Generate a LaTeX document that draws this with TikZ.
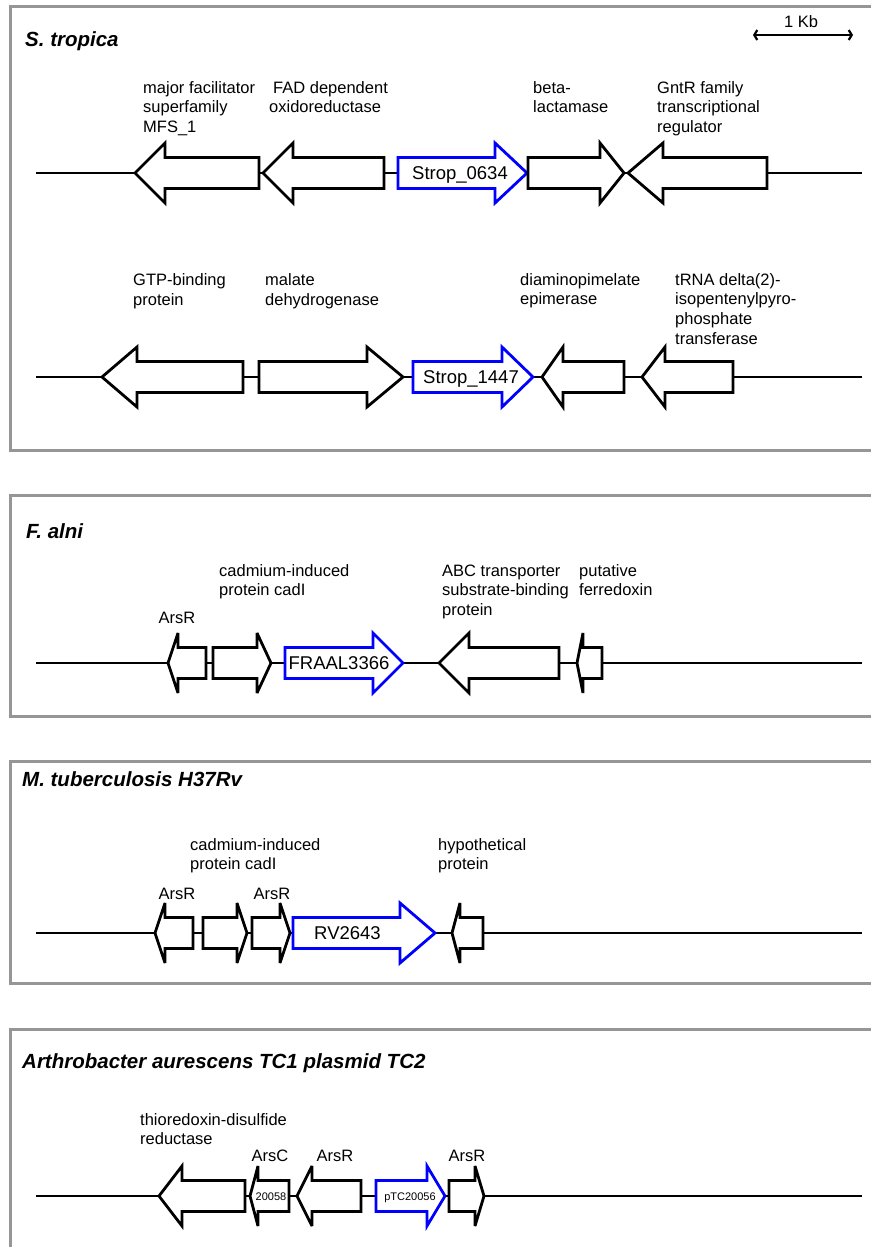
\documentclass[tikz,border=0pt]{standalone}
\usepackage{fontspec}
\setmainfont{Liberation Sans}
\usetikzlibrary{arrows.meta}
\definecolor{panelgray}{RGB}{150,150,150}
\definecolor{geneblue}{RGB}{0,0,255}
\newcommand\lblfont{\fontsize{16.5}{19.7}\selectfont}
\newcommand\ttlfont{\fontsize{20.5}{24}\selectfont\bfseries\itshape}
\newcommand\gnfont{\fontsize{18.5}{22}\selectfont}
\newcommand\smfont{\fontsize{11}{13}\selectfont}
% #1 style, #2 flat end, #3 head back, #4 tip, #5 y of backbone
\newcommand\gene[5]{\draw[#1] (#2,#5-15.5) -- (#3,#5-15.5) -- (#3,#5-30) -- (#4,#5) -- (#3,#5+30) -- (#3,#5+15.5) -- (#2,#5+15.5) -- cycle;}
\tikzset{
  panel/.style={draw=panelgray, line width=3pt},
  backbone/.style={draw=black, line width=1.4pt},
  blk/.style={draw=black, fill=white, line width=2.8pt, miter limit=4},
  blu/.style={draw=geneblue, fill=white, line width=2.8pt, miter limit=4},
  lbl/.style={anchor=north west, inner sep=0pt, align=left, font=\lblfont},
  lone/.style={anchor=base, inner sep=0pt, font=\lblfont},
  ttl/.style={anchor=base west, inner sep=0pt, font=\ttlfont},
  gname/.style={anchor=base, inner sep=0pt, font=\gnfont},
  sname/.style={anchor=base, inner sep=0pt, font=\smfont},
}
\begin{document}
\begin{tikzpicture}[x=1pt, y=-1pt]
\useasboundingbox (0,0) rectangle (870,1247);
% panels
\draw[panel] (10.5,7) rectangle (890,450);
\draw[panel] (10.5,495) rectangle (890,716.5);
\draw[panel] (10.5,761.5) rectangle (890,983.5);
\draw[panel] (10.5,1029.5) rectangle (890,1270);
% titles
\node[ttl] (t1) at (25,46.7) {S. tropica};
\node[ttl] (t2) at (26,538) {F. alni};
\node[ttl] (t3) at (22,786) {M. tuberculosis H37Rv};
\node[ttl] (t4) at (22,1068) {Arthrobacter aurescens TC1 plasmid TC2};
% scale bar
\coordinate (sba) at (753,35);
\coordinate (sbb) at (853,35);
\draw[line width=1.4pt, {Straight Barb[length=3pt,width=10pt,line width=2.2pt]}-{Straight Barb[length=3pt,width=10pt,line width=2.2pt]}] (sba) -- (sbb);
\node[lone] (sbl) at (801,28) {1 Kb};
% ---------- row 1 ----------
\coordinate (r1a) at (36,173);
\coordinate (r1b) at (862,173);
\draw[backbone] (r1a) -- (r1b);
\gene{blk}{259}{165}{135}{173}
\gene{blk}{384}{293}{263}{173}
\gene{blu}{398}{495}{527}{173}
\gene{blk}{528}{600}{624}{173}
\gene{blk}{767}{663}{628}{173}
\node[gname] (g1) at (460,179.6) {Strop\_0634};
\node[lbl] (l11) at (143,93-13.8) {\strut major facilitator\\superfamily\\MFS\_1};
\node[lbl] (l12) at (269,93-13.8) {\strut\hspace*{4pt}FAD dependent\\oxidoreductase};
\node[lbl] (l13) at (533,93-13.8) {\strut beta-\\lactamase};
\node[lbl] (l14) at (657,93-13.8) {\strut GntR family\\transcriptional\\regulator};
% ---------- row 2 ----------
\coordinate (r2a) at (36,377);
\coordinate (r2b) at (862,377);
\draw[backbone] (r2a) -- (r2b);
\gene{blk}{243}{137}{102}{377}
\gene{blk}{259}{367}{403}{377}
\gene{blu}{413}{502}{533}{377}
\gene{blk}{624}{563}{542}{377}
\gene{blk}{733}{665}{642}{377}
\node[gname] (g2) at (471,383.6) {Strop\_1447};
\node[lbl] (l21) at (133,285.5-13.8) {\strut GTP-binding\\protein};
\node[lbl] (l22) at (265,285.5-13.8) {\strut malate\\dehydrogenase};
\node[lbl] (l23) at (520,285-13.8) {\strut diaminopimelate\\epimerase};
\node[lbl] (l24) at (675,285-13.8) {\strut tRNA delta(2)-\\isopentenylpyro-\\phosphate\\transferase};
% ---------- F. alni ----------
\coordinate (r3a) at (36,663);
\coordinate (r3b) at (862,663);
\draw[backbone] (r3a) -- (r3b);
\gene{blk}{206}{178}{168}{663}
\gene{blk}{213}{257}{271}{663}
\gene{blu}{285}{373}{403}{663}
\gene{blk}{559}{469}{439}{663}
\gene{blk}{602}{583}{577}{663}
\node[gname] (g3) at (339,669.6) {FRAAL3366};
\node[lone] (l31) at (177,623) {ArsR};
\node[lbl] (l32) at (219,576-13.8) {\strut cadmium-induced\\protein cadI};
\node[lbl] (l33) at (442,576-13.8) {\strut ABC transporter\\substrate-binding\\protein};
\node[lbl] (l34) at (579,576-13.8) {\strut putative\\ferredoxin};
% ---------- M. tuberculosis ----------
\coordinate (r4a) at (36,933);
\coordinate (r4b) at (862,933);
\draw[backbone] (r4a) -- (r4b);
\gene{blk}{193}{165}{155}{933}
\gene{blk}{203}{237}{247}{933}
\gene{blk}{252}{280}{290}{933}
\gene{blu}{293}{400}{435}{933}
\gene{blk}{483}{460}{452}{933}
\node[gname] (g4) at (347.5,939.6) {RV2643};
\node[lone] (l41) at (177,899) {ArsR};
\node[lone] (l42) at (272,899) {ArsR};
\node[lbl] (l43) at (190,850-13.8) {\strut cadmium-induced\\protein cadI};
\node[lbl] (l44) at (438,850-13.8) {\strut hypothetical\\protein};
% ---------- Arthrobacter ----------
\coordinate (r5a) at (36,1196);
\coordinate (r5b) at (862,1196);
\draw[backbone] (r5a) -- (r5b);
\gene{blk}{245}{182}{159}{1196}
\gene{blk}{289}{258}{250}{1196}
\gene{blk}{361}{312}{297}{1196}
\gene{blu}{376}{427}{445}{1196}
\gene{blk}{449}{475}{484}{1196}
\node[sname] (g5) at (271,1200) {20058};
\node[sname] (g6) at (410,1200) {pTC20056};
\node[lbl] (l51) at (140,1125-13.8) {\strut thioredoxin-disulfide\\reductase};
\node[lone] (l52) at (270,1161) {ArsC};
\node[lone] (l53) at (335,1161) {ArsR};
\node[lone] (l54) at (467,1161) {ArsR};
\end{tikzpicture}
\end{document}
